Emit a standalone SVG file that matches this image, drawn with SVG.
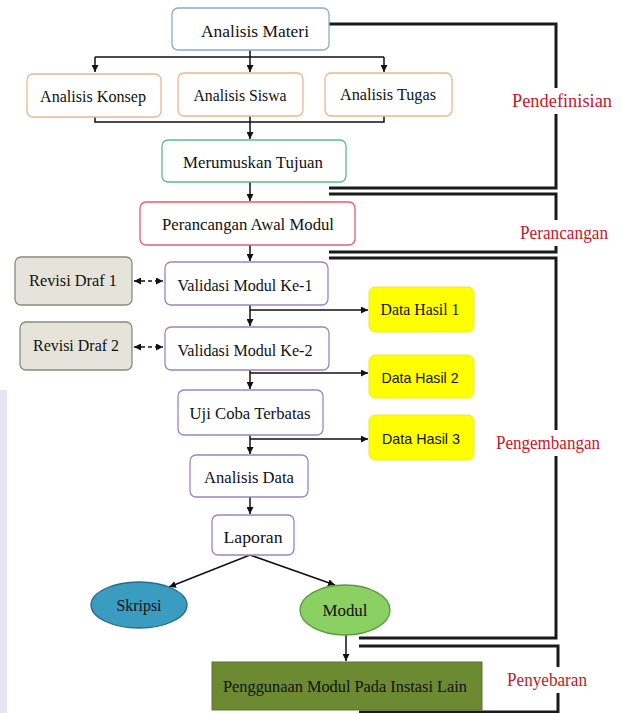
<svg xmlns="http://www.w3.org/2000/svg" width="622" height="713" viewBox="0 0 622 713" font-family="'Liberation Serif', serif">
<defs>
<marker id="ah" viewBox="0 0 10 10" refX="10" refY="5" markerWidth="7" markerHeight="7" orient="auto-start-reverse" markerUnits="userSpaceOnUse"><path d="M0,0 L10,5 L0,10 z" fill="#111"/></marker>
<style>
.t{font-size:17px;fill:#111;text-anchor:middle;dominant-baseline:central}
.s{font-size:15px;fill:#111;text-anchor:middle;dominant-baseline:central}
.r{font-size:18px;fill:#c0202a;text-anchor:middle;dominant-baseline:central}
.c{fill:none;stroke:#111;stroke-width:1.5}
.cd{fill:none;stroke:#111;stroke-width:1.5;stroke-dasharray:4 3}
.b{fill:none;stroke:#1a1a1a;stroke-width:3}
.box{fill:#fff;stroke-width:1.3}
</style>
</defs>
<rect x="0" y="0" width="622" height="713" fill="#fff"/>
<rect x="0" y="390" width="7" height="323" fill="#e4e4f2"/>
<g id="connectors">
<path class="c" d="M250,50 V57 M95,57 H384"/>
<path class="c" d="M95,57 V72" marker-end="url(#ah)"/>
<path class="c" d="M250,57 V72" marker-end="url(#ah)"/>
<path class="c" d="M384,57 V72" marker-end="url(#ah)"/>
<path class="c" d="M95,117 V122 H384 V116" stroke-width="2"/>
<path class="c" d="M250,116 V139" marker-end="url(#ah)"/>
<path class="c" d="M250,182 V201" marker-end="url(#ah)"/>
<path class="c" d="M250,245 V261" marker-end="url(#ah)"/>
<path class="c" d="M250,305 V326" marker-end="url(#ah)"/>
<path class="c" d="M250,310 H368" marker-end="url(#ah)"/>
<path class="c" d="M250,370 V389" marker-end="url(#ah)"/>
<path class="c" d="M250,373 H368" marker-end="url(#ah)"/>
<path class="c" d="M250,435 V454" marker-end="url(#ah)"/>
<path class="c" d="M250,439 H368" marker-end="url(#ah)"/>
<path class="c" d="M250,497 V514" marker-end="url(#ah)"/>
<path class="c" d="M250,555 L169,587" marker-end="url(#ah)"/>
<path class="c" d="M250,555 L335,585" marker-end="url(#ah)"/>
<path class="c" d="M346,635 V661" marker-end="url(#ah)"/>
<path class="cd" d="M134,281 H163" marker-start="url(#ah)" marker-end="url(#ah)"/>
<path class="cd" d="M134,347 H163" marker-start="url(#ah)" marker-end="url(#ah)"/>
<path class="b" d="M329,24 H556 V188 H329"/>
<path class="b" d="M329,194 H556 V252 H329"/>
<path class="b" d="M329,258 H556 V638 H359"/>
<path class="b" d="M359,646 H558 V712 H359"/>
</g>
<g id="analisis-materi"><rect class="box" x="172" y="8" width="157" height="42" rx="6" stroke="#8aaccc"/><text class="t" font-family="'Liberation Serif', serif" x="255" y="31" textLength="108" lengthAdjust="spacingAndGlyphs">Analisis Materi</text></g>
<g id="analisis-konsep"><rect class="box" x="27" y="74" width="134" height="43" rx="6" stroke="#e8b890"/><text class="t" font-family="'Liberation Serif', serif" x="93" y="96" textLength="106" lengthAdjust="spacingAndGlyphs">Analisis Konsep</text></g>
<g id="analisis-siswa"><rect class="box" x="178" y="73" width="125" height="43" rx="6" stroke="#e8b890"/><text class="t" font-family="'Liberation Serif', serif" x="240" y="95" textLength="93" lengthAdjust="spacingAndGlyphs">Analisis Siswa</text></g>
<g id="analisis-tugas"><rect class="box" x="325" y="73" width="127" height="43" rx="6" stroke="#e8b890"/><text class="t" font-family="'Liberation Serif', serif" x="388" y="94" textLength="96" lengthAdjust="spacingAndGlyphs">Analisis Tugas</text></g>
<g id="merumuskan-tujuan"><rect class="box" x="162" y="140" width="184" height="42" rx="6" stroke="#60b890"/><text class="t" font-family="'Liberation Serif', serif" x="253" y="162" textLength="140" lengthAdjust="spacingAndGlyphs">Merumuskan Tujuan</text></g>
<g id="perancangan-awal"><rect class="box" x="140" y="202" width="215" height="43" rx="6" stroke="#e06070"/><text class="t" font-family="'Liberation Serif', serif" x="248" y="224" textLength="172" lengthAdjust="spacingAndGlyphs">Perancangan Awal Modul</text></g>
<g id="revisi-1"><rect x="15" y="257" width="117" height="48" rx="6" fill="#e6e4da" stroke="#8a8a80" stroke-width="1.3"/><text class="t" font-family="'Liberation Serif', serif" x="73" y="280" textLength="88" lengthAdjust="spacingAndGlyphs">Revisi Draf 1</text></g>
<g id="validasi-1"><rect class="box" x="165" y="262" width="163" height="43" rx="6" stroke="#9a86c0"/><text class="t" font-family="'Liberation Serif', serif" x="245" y="285" textLength="135" lengthAdjust="spacingAndGlyphs">Validasi Modul Ke-1</text></g>
<g id="data-hasil-1"><rect x="369" y="287" width="105" height="45" rx="6" fill="#ffff00" stroke="#e8e840"/><text class="t" font-family="'Liberation Serif', serif" x="420" y="309" textLength="79" lengthAdjust="spacingAndGlyphs">Data Hasil 1</text></g>
<g id="revisi-2"><rect x="20" y="322" width="112" height="48" rx="6" fill="#e6e4da" stroke="#8a8a80" stroke-width="1.3"/><text class="t" font-family="'Liberation Serif', serif" x="76" y="345" textLength="86" lengthAdjust="spacingAndGlyphs">Revisi Draf 2</text></g>
<g id="validasi-2"><rect class="box" x="165" y="327" width="164" height="43" rx="6" stroke="#9a86c0"/><text class="t" font-family="'Liberation Serif', serif" x="245" y="350" textLength="135" lengthAdjust="spacingAndGlyphs">Validasi Modul Ke-2</text></g>
<g id="data-hasil-2"><rect x="369" y="355" width="105" height="43" rx="6" fill="#ffff00" stroke="#e8e840"/><text class="s" font-family="'Liberation Sans', Arial, sans-serif" x="420" y="377" textLength="77" lengthAdjust="spacingAndGlyphs">Data Hasil 2</text></g>
<g id="uji-coba"><rect class="box" x="178" y="390" width="145" height="45" rx="6" stroke="#9a86c0"/><text class="t" font-family="'Liberation Serif', serif" x="250" y="413" textLength="121" lengthAdjust="spacingAndGlyphs">Uji Coba Terbatas</text></g>
<g id="data-hasil-3"><rect x="369" y="415" width="105" height="45" rx="6" fill="#ffff00" stroke="#e8e840"/><text class="s" font-family="'Liberation Sans', Arial, sans-serif" x="421" y="438" textLength="78" lengthAdjust="spacingAndGlyphs">Data Hasil 3</text></g>
<g id="analisis-data"><rect class="box" x="190" y="455" width="118" height="42" rx="6" stroke="#9a86c0"/><text class="t" font-family="'Liberation Serif', serif" x="249" y="477" textLength="90" lengthAdjust="spacingAndGlyphs">Analisis Data</text></g>
<g id="laporan"><rect class="box" x="212" y="515" width="82" height="40" rx="6" stroke="#9a86c0"/><text class="t" font-family="'Liberation Serif', serif" x="253" y="537" textLength="59" lengthAdjust="spacingAndGlyphs">Laporan</text></g>
<g id="skripsi"><ellipse cx="139" cy="605" rx="48" ry="23" fill="#3a9cc0" stroke="#2a6a8a" stroke-width="1.3"/><text class="t" font-family="'Liberation Serif', serif" x="139" y="605" textLength="45" lengthAdjust="spacingAndGlyphs">Skripsi</text></g>
<g id="modul"><ellipse cx="345" cy="610" rx="45" ry="25" fill="#8ad062" stroke="#5a9a40" stroke-width="1.3"/><text class="t" font-family="'Liberation Serif', serif" x="345" y="610" textLength="45" lengthAdjust="spacingAndGlyphs">Modul</text></g>
<g id="penggunaan"><rect x="212" y="662" width="270" height="48" fill="#6b8a32" stroke="#5a7628" stroke-width="1"/><text class="t" font-family="'Liberation Serif', serif" x="345" y="686" textLength="244" lengthAdjust="spacingAndGlyphs">Penggunaan Modul Pada Instasi Lain</text></g>
<g id="label-pendefinisian"><rect x="512" y="88" width="102" height="26" fill="#fff"/><text class="r" font-family="'Liberation Serif', serif" x="562" y="101" textLength="100" lengthAdjust="spacingAndGlyphs">Pendefinisian</text></g>
<g id="label-perancangan"><rect x="518" y="220" width="92" height="26" fill="#fff"/><text class="r" font-family="'Liberation Serif', serif" x="564" y="233" textLength="88" lengthAdjust="spacingAndGlyphs">Perancangan</text></g>
<g id="label-pengembangan"><rect x="494" y="430" width="108" height="26" fill="#fff"/><text class="r" font-family="'Liberation Serif', serif" x="548" y="443" textLength="104" lengthAdjust="spacingAndGlyphs">Pengembangan</text></g>
<g id="label-penyebaran"><rect x="505" y="667" width="84" height="26" fill="#fff"/><text class="r" font-family="'Liberation Serif', serif" x="547" y="680" textLength="80" lengthAdjust="spacingAndGlyphs">Penyebaran</text></g>
</svg>
